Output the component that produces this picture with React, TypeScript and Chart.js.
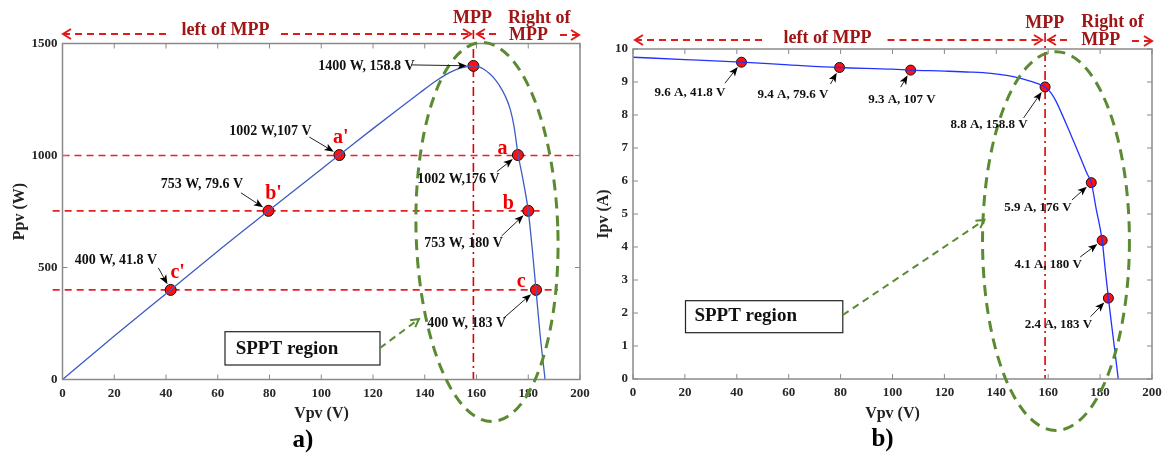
import React, { useEffect, useRef } from "react";
import { Chart, registerables } from "chart.js";
Chart.register(...registerables);

const SERIF = '"Liberation Serif", "Times New Roman", serif';

// ---------------- data ----------------
// a) P-V curve
const pvVoltage = [0, 20, 41.8, 60, 79.6, 100, 107, 120, 130, 138, 142, 145, 148, 151, 154, 156.5, 158.8, 161, 163, 165, 167, 169, 171, 173, 174.5, 176, 178, 180, 181.5, 183, 184.5, 186.5];
const pvPower = [0, 194, 400, 573, 753, 939, 1002, 1120, 1209, 1279, 1314, 1338, 1360, 1378, 1391, 1397, 1400, 1396, 1384, 1366, 1342, 1310, 1268, 1208, 1130, 1010, 890, 753, 588, 400, 210, 0];
const pvMarkVoltage = [41.8, 79.6, 107, 158.8, 176, 180, 183];
const pvMarkPower = [400, 753, 1002, 1400, 1002, 753, 400];
const pvMarkLabels = ["400 W, 41.8 V", "753 W, 79.6 V", "1002 W,107 V", "1400 W, 158.8 V", "1002 W,176 V", "753 W, 180 V", "400 W, 183 V"];
const pvMarkLetters = ["c'", "b'", "a'", "", "a", "b", "c"];
const pvLevels = [1000, 753, 400];
const pvLevelFrom = [0, -3.8, -3.8];
const pvLevelTo = [200, 184.5, 191.5];

// b) I-V curve
const ivVoltage = [0, 20, 41.8, 60, 79.6, 100, 107, 120, 130, 138, 144, 149, 153, 156, 158.8, 161, 163, 165, 167, 169, 171, 173, 175, 176.6, 178.5, 180.8, 182, 183.2, 184.5, 186, 187];
const ivCurrent = [9.75, 9.68, 9.6, 9.52, 9.44, 9.39, 9.36, 9.33, 9.3, 9.26, 9.2, 9.12, 9.03, 8.95, 8.85, 8.68, 8.42, 8.08, 7.72, 7.35, 6.98, 6.6, 6.22, 5.95, 5.15, 4.2, 3.3, 2.45, 1.6, 0.65, 0];
const ivMarkVoltage = [41.8, 79.6, 107, 158.8, 176.6, 180.8, 183.2];
const ivMarkCurrent = [9.6, 9.44, 9.36, 8.85, 5.95, 4.2, 2.45];
const ivMarkLabels = ["9.6 A, 41.8 V", "9.4 A, 79.6 V", "9.3 A, 107 V", "8.8 A, 158.8 V", "5.9 A, 176 V", "4.1 A, 180 V", "2.4 A, 183 V"];

const mppVoltage = 158.8;
const voltageMin = 0, voltageMax = 200, voltageStep = 20;
const powerMax = 1500, powerStep = 500;
const currentMax = 10, currentStep = 1;

// ---------------- layout (pixel offsets, styles) ----------------
const pvLabelLayout = [
  { text: [-54.7, -30], tail: [-12.3, -22], letter: [7, -17] },
  { text: [-66.5, -26], tail: [-27.5, -18], letter: [5, -17] },
  { text: [-69, -23.5], tail: [-30, -18], letter: [1.5, -17.5] },
  { text: [-107, 0], tail: [-62, -1], letter: null },
  { text: [-59.4, 24], tail: [-21, 16.6], letter: [-15.5, -6] },
  { text: [-64.7, 32.5], tail: [-26.7, 25.2], letter: [-20, -7] },
  { text: [-69.4, 33.4], tail: [-32.6, 28.4], letter: [-14.7, -8] },
];
const ivLabelLayout = [
  { text: [-51.5, 30], tail: [-16.5, 21], letter: null },
  { text: [-46.6, 27.5], tail: [-9, 16.5], letter: null },
  { text: [-8.7, 30], tail: [-10, 17], letter: null },
  { text: [-56, 38], tail: [-21.5, 31], letter: null },
  { text: [-53.3, 25.3], tail: [-19.3, 17.3], letter: null },
  { text: [-54, 24.6], tail: [-22, 16.6], letter: null },
  { text: [-50, 26], tail: [-17.8, 18.5], letter: null },
];

type Seg = { x0: number; x1: number; y: number; head: "L" | "R" };
type Txt = { t: string; x: number; y: number; align: CanvasTextAlign };

const panels = [
  {
    id: "pv",
    left: 0,
    width: 600,
    area: { left: 62.5, right: 580, top: 43.5, bottom: 379.5 },
    yMax: powerMax,
    yStep: powerStep,
    xs: pvVoltage,
    ys: pvPower,
    mx: pvMarkVoltage,
    my: pvMarkPower,
    labels: pvMarkLabels,
    letters: pvMarkLetters,
    layout: pvLabelLayout,
    curveColor: "#3D5CC2",
    markerRadius: 5.5,
    labelFont: 14,
    levels: pvLevels.map((v, i) => ({ y: v, x0: pvLevelFrom[i], x1: pvLevelTo[i] })),
    mppTop: 30,
    ellipse: { cx: 164.05, cy: 658.5, rx: 27.4, ry: 846, rot: -0.029 },
    sppt: { x: 225, y: 331.7, w: 155, h: 33.3, tx: 235.7, ty: 349 },
    spptArrow: [380, 348, 419, 319],
    segs: [
      { x0: 63, x1: 166, y: 34, head: "L" },
      { x0: 281, x1: 471, y: 34, head: "R" },
      { x0: 477, x1: 499, y: 34, head: "L" },
      { x0: 560, x1: 579, y: 35, head: "R" },
    ] as Seg[],
    texts: [
      { t: "left of MPP", x: 225.5, y: 30, align: "center" },
      { t: "MPP", x: 472.5, y: 18.5, align: "center" },
      { t: "Right of", x: 508, y: 18.5, align: "left" },
      { t: "MPP", x: 509, y: 35, align: "left" },
    ] as Txt[],
    yTitle: { t: "Ppv (W)", x: 19.5, y: 211.5 },
    xTitle: { t: "Vpv (V)", x: 321.5, y: 418 },
    panel: { t: "a)", x: 303, y: 447 },
  },
  {
    id: "iv",
    left: 580,
    width: 590,
    area: { left: 633, right: 1152, top: 49, bottom: 379 },
    yMax: currentMax,
    yStep: currentStep,
    xs: ivVoltage,
    ys: ivCurrent,
    mx: ivMarkVoltage,
    my: ivMarkCurrent,
    labels: ivMarkLabels,
    letters: ["", "", "", "", "", "", ""],
    layout: ivLabelLayout,
    curveColor: "#2233FF",
    markerRadius: 5,
    labelFont: 13,
    levels: [] as { y: number; x0: number; x1: number }[],
    mppTop: 33,
    ellipse: { cx: 163, cy: 4.18, rx: 28.3, ry: 5.74, rot: 0 },
    sppt: { x: 685.5, y: 300.7, w: 157.3, h: 32, tx: 694.4, ty: 316.5 },
    spptArrow: [842.8, 315, 984.4, 220],
    segs: [
      { x0: 635, x1: 766, y: 40, head: "L" },
      { x0: 887.5, x1: 1042, y: 40, head: "R" },
      { x0: 1048, x1: 1072, y: 40, head: "L" },
      { x0: 1132, x1: 1152, y: 41, head: "R" },
    ] as Seg[],
    texts: [
      { t: "left of MPP", x: 827.5, y: 38.3, align: "center" },
      { t: "MPP", x: 1044.7, y: 23.3, align: "center" },
      { t: "Right of", x: 1081.3, y: 22.5, align: "left" },
      { t: "MPP", x: 1081.3, y: 40, align: "left" },
    ] as Txt[],
    yTitle: { t: "Ipv (A)", x: 603.5, y: 214 },
    xTitle: { t: "Vpv (V)", x: 892.5, y: 418 },
    panel: { t: "b)", x: 882.5, y: 446 },
  },
];

const HEAD_TEXT = "#A01515";
const HEAD_DASH = "#E01B1B";
const GREEN = "#5A8A32";
const AXIS_GRAY = "#8A8A8A";

function bold(size: number) {
  return `bold ${size}px ${SERIF}`;
}

function makePlugin(p: (typeof panels)[number]) {
  const ox = p.left;
  return {
    id: "deco_" + p.id,
    beforeDatasetsDraw(chart: any) {
      const ctx: CanvasRenderingContext2D = chart.ctx;
      const xs = chart.scales.x;
      const ys = chart.scales.y;
      const a = chart.chartArea;
      ctx.save();
      ctx.strokeStyle = "#E82020";
      ctx.lineWidth = 1.6;
      ctx.setLineDash([7, 5]);
      for (const l of p.levels) {
        const y = ys.getPixelForValue(l.y);
        ctx.beginPath();
        ctx.moveTo(xs.getPixelForValue(l.x0), y);
        ctx.lineTo(xs.getPixelForValue(l.x1), y);
        ctx.stroke();
      }
      const mx = xs.getPixelForValue(mppVoltage);
      ctx.setLineDash([9, 4, 2, 4]);
      ctx.lineWidth = 1.6;
      ctx.strokeStyle = "#E00000";
      ctx.beginPath();
      ctx.moveTo(mx, p.mppTop);
      ctx.lineTo(mx, a.bottom);
      ctx.stroke();
      ctx.restore();
    },
    afterDatasetsDraw(chart: any) {
      const ctx: CanvasRenderingContext2D = chart.ctx;
      const xs = chart.scales.x;
      const ys = chart.scales.y;
      const a = chart.chartArea;
      ctx.save();

      ctx.strokeStyle = AXIS_GRAY;
      ctx.lineWidth = 1.5;
      ctx.setLineDash([]);
      ctx.strokeRect(a.left, a.top, a.right - a.left, a.bottom - a.top);
      ctx.lineWidth = 1;
      ctx.beginPath();
      for (const t of xs.ticks) {
        const x = xs.getPixelForValue(t.value);
        ctx.moveTo(x, a.bottom);
        ctx.lineTo(x, a.bottom - 5);
        ctx.moveTo(x, a.top);
        ctx.lineTo(x, a.top + 5);
      }
      for (const t of ys.ticks) {
        const y = ys.getPixelForValue(t.value);
        ctx.moveTo(a.left, y);
        ctx.lineTo(a.left + 5, y);
        ctx.moveTo(a.right, y);
        ctx.lineTo(a.right - 5, y);
      }
      ctx.stroke();

      const e = p.ellipse;
      const ecx = xs.getPixelForValue(e.cx);
      const ecy = ys.getPixelForValue(e.cy);
      const erx = xs.getPixelForValue(e.cx + e.rx) - ecx;
      const ery = ecy - ys.getPixelForValue(e.cy + e.ry);
      ctx.strokeStyle = GREEN;
      ctx.lineWidth = 3;
      ctx.setLineDash([11, 7]);
      ctx.beginPath();
      ctx.ellipse(ecx, ecy, erx, ery, e.rot, 0, Math.PI * 2);
      ctx.stroke();

      ctx.setLineDash([]);
      ctx.strokeStyle = "#222";
      ctx.lineWidth = 1.2;
      ctx.fillStyle = "#fff";
      const s = p.sppt;
      ctx.fillRect(s.x - ox, s.y, s.w, s.h);
      ctx.strokeRect(s.x - ox, s.y, s.w, s.h);
      ctx.fillStyle = "#111";
      ctx.font = bold(19);
      ctx.textAlign = "left";
      ctx.textBaseline = "middle";
      ctx.fillText("SPPT region", s.tx - ox, s.ty);

      const [gx0, gy0, gx1, gy1] = p.spptArrow;
      ctx.strokeStyle = GREEN;
      ctx.lineWidth = 2;
      ctx.setLineDash([7, 5]);
      ctx.beginPath();
      ctx.moveTo(gx0 - ox, gy0);
      ctx.lineTo(gx1 - ox, gy1);
      ctx.stroke();
      ctx.setLineDash([]);
      {
        const ang = Math.atan2(gy1 - gy0, gx1 - gx0);
        const hx = gx1 - ox, hy = gy1;
        ctx.beginPath();
        ctx.moveTo(hx - 9 * Math.cos(ang - 0.5), hy - 9 * Math.sin(ang - 0.5));
        ctx.lineTo(hx, hy);
        ctx.lineTo(hx - 9 * Math.cos(ang + 0.5), hy - 9 * Math.sin(ang + 0.5));
        ctx.stroke();
      }

      for (let i = 0; i < p.mx.length; i++) {
        const px = xs.getPixelForValue(p.mx[i]);
        const py = ys.getPixelForValue(p.my[i]);
        const L = p.layout[i];
        const tx = px + L.tail[0], ty = py + L.tail[1];
        const ang = Math.atan2(py - ty, px - tx);
        const r = p.markerRadius + 1;
        const hx = px - r * Math.cos(ang), hy = py - r * Math.sin(ang);
        ctx.strokeStyle = "#222";
        ctx.lineWidth = 1;
        ctx.beginPath();
        ctx.moveTo(tx, ty);
        ctx.lineTo(hx - 6 * Math.cos(ang), hy - 6 * Math.sin(ang));
        ctx.stroke();
        ctx.fillStyle = "#000";
        ctx.beginPath();
        ctx.moveTo(hx, hy);
        ctx.lineTo(hx - 10 * Math.cos(ang - 0.38), hy - 10 * Math.sin(ang - 0.38));
        ctx.lineTo(hx - 7 * Math.cos(ang), hy - 7 * Math.sin(ang));
        ctx.lineTo(hx - 10 * Math.cos(ang + 0.38), hy - 10 * Math.sin(ang + 0.38));
        ctx.closePath();
        ctx.fill();
        ctx.fillStyle = "#111";
        ctx.font = bold(p.labelFont);
        ctx.textAlign = "center";
        ctx.textBaseline = "middle";
        ctx.fillText(p.labels[i], px + L.text[0], py + L.text[1]);
        if (L.letter && p.letters[i]) {
          ctx.fillStyle = "#F00000";
          ctx.font = bold(20);
          ctx.fillText(p.letters[i], px + L.letter[0], py + L.letter[1]);
        }
      }

      ctx.strokeStyle = HEAD_DASH;
      ctx.lineWidth = 2;
      for (const sg of p.segs) {
        ctx.setLineDash([7, 5]);
        ctx.beginPath();
        ctx.moveTo(sg.x0 - ox, sg.y);
        ctx.lineTo(sg.x1 - ox, sg.y);
        ctx.stroke();
        ctx.setLineDash([]);
        const hx = (sg.head === "L" ? sg.x0 : sg.x1) - ox;
        const d = sg.head === "L" ? 1 : -1;
        ctx.beginPath();
        ctx.moveTo(hx + 8 * d, sg.y - 5);
        ctx.lineTo(hx, sg.y);
        ctx.lineTo(hx + 8 * d, sg.y + 5);
        ctx.stroke();
      }
      ctx.fillStyle = HEAD_TEXT;
      ctx.font = bold(18);
      ctx.textBaseline = "middle";
      for (const t of p.texts) {
        ctx.textAlign = t.align;
        if (t.align === "center") {
          const w = ctx.measureText(t.t).width;
          ctx.fillStyle = "#fff";
          ctx.fillRect(t.x - ox - w / 2 - 2, t.y - 8, w + 4, 14);
          ctx.fillStyle = HEAD_TEXT;
        }
        ctx.fillText(t.t, t.x - ox, t.y);
      }

      ctx.fillStyle = "#222";
      ctx.font = bold(16);
      ctx.textAlign = "center";
      ctx.textBaseline = "alphabetic";
      ctx.fillText(p.xTitle.t, p.xTitle.x - ox, p.xTitle.y);
      ctx.save();
      ctx.translate(p.yTitle.x - ox, p.yTitle.y);
      ctx.rotate(-Math.PI / 2);
      ctx.textBaseline = "middle";
      ctx.fillText(p.yTitle.t, 0, 0);
      ctx.restore();
      ctx.fillStyle = "#000";
      ctx.font = bold(25);
      ctx.fillText(p.panel.t, p.panel.x - ox, p.panel.y);

      ctx.restore();
    },
  };
}

function Panel({ p }: { p: (typeof panels)[number] }) {
  const ref = useRef<HTMLCanvasElement>(null);
  useEffect(() => {
    const canvas = ref.current!;
    const curve = p.xs.map((x, i) => ({ x, y: p.ys[i] }));
    const marks = p.mx.map((x, i) => ({ x, y: p.my[i] }));
    const areaLeft = p.area.left - p.left;
    const areaRight = p.area.right - p.left;
    const tickFont = { family: SERIF, size: 13, weight: "bold" as const };
    const chart = new Chart(canvas, {
      type: "scatter",
      data: {
        datasets: [
          {
            data: curve,
            showLine: true,
            borderColor: p.curveColor,
            borderWidth: 1.3,
            pointRadius: 0,
            cubicInterpolationMode: "monotone",
            fill: false,
          } as any,
          {
            data: marks,
            showLine: false,
            pointRadius: p.markerRadius,
            pointBackgroundColor: "#FF1010",
            pointBorderColor: "#111",
            pointBorderWidth: 1,
          },
        ],
      },
      options: {
        animation: false,
        responsive: false,
        events: [],
        layout: {
          padding: { left: 0, top: p.area.top, right: p.width - areaRight, bottom: 0 },
        },
        plugins: { legend: { display: false }, tooltip: { enabled: false } },
        scales: {
          x: {
            type: "linear",
            min: voltageMin,
            max: voltageMax,
            ticks: {
              stepSize: voltageStep,
              font: tickFont,
              color: "#262626",
              padding: 6,
              maxRotation: 0,
              autoSkip: false,
              callback: (v: any) => String(v),
            },
            grid: { display: false, drawTicks: false },
            border: { display: false },
            afterFit: (s: any) => {
              s.height = 455 - p.area.bottom;
            },
          },
          y: {
            type: "linear",
            min: 0,
            max: p.yMax,
            ticks: {
              stepSize: p.yStep,
              font: tickFont,
              color: "#262626",
              padding: 5,
              autoSkip: false,
              callback: (v: any) => String(v),
            },
            grid: { display: false, drawTicks: false },
            border: { display: false },
            afterFit: (s: any) => {
              s.width = areaLeft;
            },
          },
        },
      },
      plugins: [makePlugin(p)],
    });
    return () => chart.destroy();
  }, []);
  return (
    <canvas
      ref={ref}
      width={p.width}
      height={455}
      style={{ position: "absolute", left: p.left, top: 0, width: p.width, height: 455 }}
    />
  );
}

export default function App() {
  return (
    <div
      style={{
        position: "absolute",
        left: 0,
        top: 0,
        width: 1162,
        height: 455,
        overflow: "hidden",
        background: "#fff",
      }}
    >
      {panels.map((p) => (
        <Panel key={p.id} p={p} />
      ))}
    </div>
  );
}
